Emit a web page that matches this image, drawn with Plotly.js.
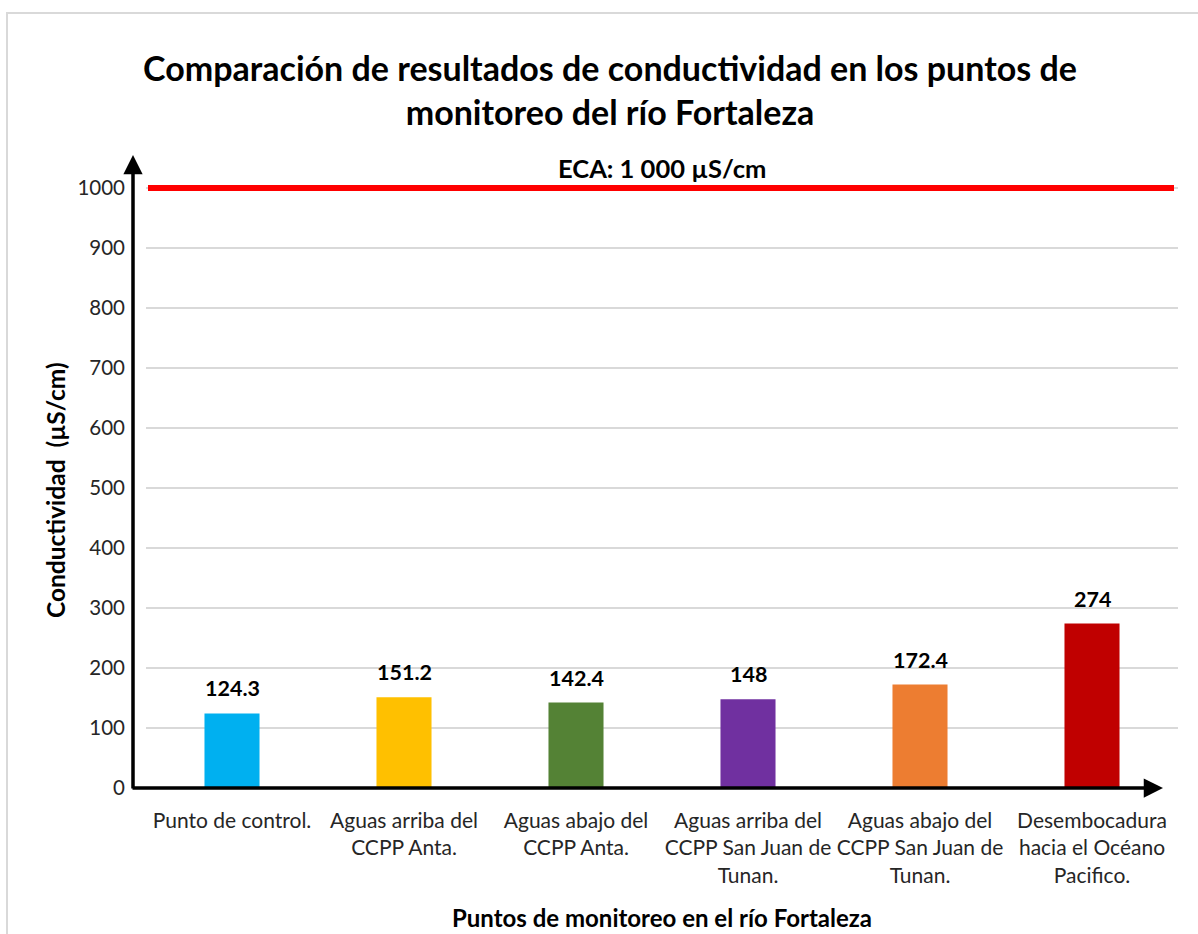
<!DOCTYPE html>
<html>
<head>
<meta charset="utf-8">
<script src="https://cdn.plot.ly/plotly-3.0.1.min.js"></script>
<style>
  html, body { margin: 0; padding: 0; background: #ffffff; }
  #chart { width: 1198px; height: 934px; }
</style>
</head>
<body>
<div id="chart"></div>
<script>
// Conductividad en los puntos de monitoreo del río Fortaleza

const categories = [
    'Punto de control.',
    'Aguas arriba del<br>CCPP Anta.',
    'Aguas abajo del<br>CCPP Anta.',
    'Aguas arriba del<br>CCPP San Juan de<br>Tunan.',
    'Aguas abajo del<br>CCPP San Juan de<br>Tunan.',
    'Desembocadura<br>hacia el Océano<br>Pacifico.'
];
const conductividad = [124.3, 151.2, 142.4, 148, 172.4, 274];
const valueLabels = ['124.3', '151.2', '142.4', '148', '172.4', '274'];
const barColors = ['#00B0F0', '#FFC000', '#548235', '#7030A0', '#ED7D31', '#C00000'];
const ecaLimit = 1000;
const ecaLabel = 'ECA: 1 000 µS/cm';
const yTicks = [0, 100, 200, 300, 400, 500, 600, 700, 800, 900, 1000];

const FONT = 'Lato, "Open Sans", sans-serif';

// plot area in pixels, used to place things outside of it
const plotLeft = 146, plotRight = 1178, plotTop = 152, plotBottom = 788;
const plotW = plotRight - plotLeft, plotH = plotBottom - plotTop;
const px = (x) => (x - plotLeft) / plotW;
const py = (y) => (plotBottom - y) / plotH;

const traceBars = {
    type: 'bar',
    x: categories,
    y: conductividad,
    width: 0.32,
    marker: { color: barColors },
    hoverinfo: 'x+y',
    showlegend: false
};

// value labels above each bar
const valueAnnotations = categories.map((c, i) => ({
    x: c,
    y: conductividad[i],
    xref: 'x',
    yref: 'y',
    text: '<b>' + valueLabels[i] + '</b>',
    showarrow: false,
    yanchor: 'bottom',
    yshift: 10,
    font: { family: FONT, size: 21.5, color: '#000000' }
}));

const annotations = valueAnnotations.concat([
    // ECA label
    {
        x: 0.5, y: ecaLimit, xref: 'paper', yref: 'y',
        text: '<b>' + ecaLabel + '</b>',
        showarrow: false, yanchor: 'bottom', yshift: 3,
        font: { family: FONT, size: 25.5, color: '#000000' }
    },
    // y title
    {
        x: px(55), y: py(490), xref: 'paper', yref: 'paper',
        text: '<b>Conductividad  (µS/cm)</b>',
        textangle: -90, showarrow: false,
        xanchor: 'center', yanchor: 'middle',
        font: { family: FONT, size: 24.5, color: '#000000' }
    },
    // y axis arrow
    {
        x: px(133), y: py(155), xref: 'paper', yref: 'paper',
        ax: 0, ay: 635, text: '',
        showarrow: true, arrowhead: 2, arrowsize: 1.1, arrowwidth: 3.5, arrowcolor: '#000000'
    },
    // x axis arrow
    {
        x: px(1163), y: py(788), xref: 'paper', yref: 'paper',
        ax: -1032, ay: 0, text: '',
        showarrow: true, arrowhead: 2, arrowsize: 1.1, arrowwidth: 3.5, arrowcolor: '#000000'
    }
]);

const shapes = [
    // ECA limit
    {
        type: 'line', xref: 'paper', yref: 'y',
        x0: px(148), x1: px(1174), y0: ecaLimit, y1: ecaLimit,
        line: { color: '#FF0000', width: 6 }
    },
    // chart frame
    {
        type: 'rect', xref: 'paper', yref: 'paper',
        x0: px(7), x1: px(1210), y0: py(960), y1: py(13),
        line: { color: '#D9D9D9', width: 2 }, layer: 'below'
    }
];

const layout = {
    width: 1198,
    height: 934,
    font: { family: FONT, color: '#262626' },
    margin: { t: plotTop, r: 1198 - plotRight, b: 934 - plotBottom, l: plotLeft },
    title: {
        text: '<b>Comparación de resultados de conductividad en los puntos de<br>monitoreo del río Fortaleza</b>',
        x: 610 / 1198, xref: 'container', xanchor: 'center',
        y: 1 - 81 / 934, yref: 'container', yanchor: 'middle',
        font: { family: FONT, size: 34, color: '#000000' }
    },
    xaxis: {
        type: 'category',
        showgrid: false,
        zeroline: false,
        showline: false,
        ticks: '',
        tickangle: 0,
        ticklabelstandoff: 18,
        tickfont: { family: FONT, size: 21, color: '#262626' },
        title: {
            text: '<b>Puntos de monitoreo en el río Fortaleza</b>',
            standoff: 24,
            font: { family: FONT, size: 24, color: '#000000' }
        }
    },
    yaxis: {
        range: [0, 1060],
        tickvals: yTicks,
        ticktext: yTicks.map(String),
        showgrid: true,
        gridcolor: '#D9D9D9',
        gridwidth: 1.5,
        zeroline: false,
        showline: false,
        ticks: '',
        ticklabelstandoff: 20,
        tickfont: { family: FONT, size: 20.5, color: '#262626' }
    },
    annotations: annotations,
    shapes: shapes,
    showlegend: false,
    paper_bgcolor: '#ffffff',
    plot_bgcolor: '#ffffff'
};

const config = { displayModeBar: false, staticPlot: true };

Plotly.newPlot('chart', [traceBars], layout, config);
</script>
</body>
</html>
